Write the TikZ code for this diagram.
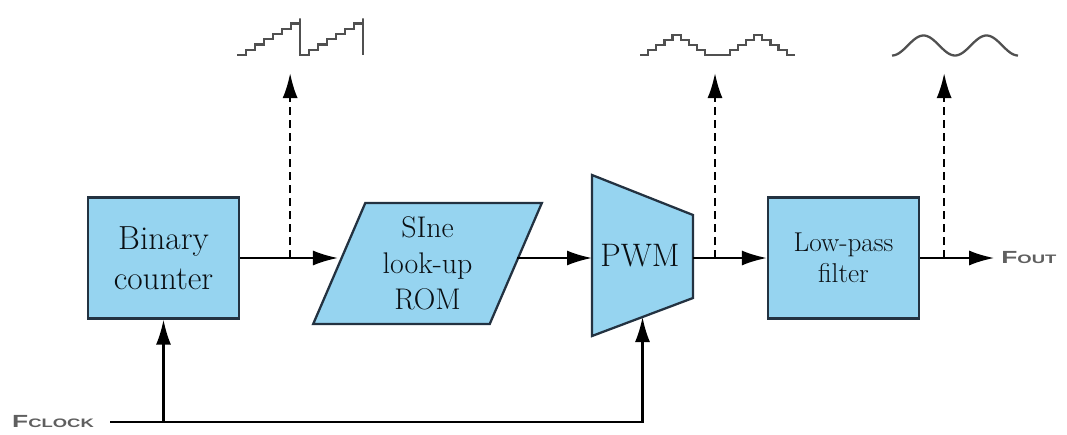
\documentclass[tikz,border=0pt]{standalone}
\usepackage{fontspec}
\newfontfamily\sigfont[FakeStretch=1.5]{Liberation Sans}
\usetikzlibrary{arrows.meta, positioning, shapes.geometric, calc}
\definecolor{boxfill}{RGB}{150,212,240}
\definecolor{boxline}{RGB}{35,50,65}
\definecolor{sigtext}{RGB}{95,95,95}
\definecolor{wavecol}{RGB}{80,80,80}

\begin{document}
\begin{tikzpicture}[
    blk/.style={draw=boxline, fill=boxfill, line width=1.3pt, minimum width=3.02cm, minimum height=2.42cm, align=center, font=\fontsize{19}{23}\selectfont, text=boxline!30!black},
    rom/.style={blk, trapezium, trapezium left angle=68, trapezium right angle=112, trapezium stretches=true, minimum width=4.58cm, font=\fontsize{17}{20.5}\selectfont},
    arrow/.style={-{Latex[length=5mm, width=3mm]}, line width=1.2pt},
    tap/.style={arrow, dash pattern=on 0.16cm off 0.1cm, line width=1.3pt},
    wave/.style={draw=wavecol, line width=1.3pt},
    sig/.style={text=sigtext, font=\sigfont\bfseries}]
  \useasboundingbox (0,0) rectangle (21.34,8.68);

  % blocks
  \node[blk] (counter) at (3.27,3.52) {Binary\\counter};
  \node[rom] (rom) at (8.55,3.41) {SIne\\look-up\\ROM};
  \draw[blk] (11.84,5.18) coordinate (pwm-tl) -- (13.86,4.38) coordinate (pwm-tr)
    -- (13.86,2.72) coordinate (pwm-br) -- (11.84,1.96) coordinate (pwm-bl) -- cycle;
  \node[font=\fontsize{18.5}{22}\selectfont, text=boxline!30!black] (pwm) at (12.8,3.56) {PWM};
  \node[blk, font=\fontsize{15.5}{17.5}\selectfont] (lpf) at (16.87,3.52) {Low-pass\\filter};

  % signal path
  \coordinate (pwm-in) at (pwm-tl |- counter.east);
  \coordinate (pwm-out) at (pwm-tr |- counter.east);
  \draw[arrow] (counter.east) -- (counter.east -| rom.west);
  \draw[arrow] (rom.east |- pwm-in) -- (pwm-in);
  \draw[arrow] (pwm-out) -- (lpf.west);
  \draw[arrow] (lpf.east) -- ++(1.48,0) coordinate (fout);
  \node[sig, right=0.02cm of fout] (fout-lbl) {F{\fontsize{7}{8}\selectfont OUT}};

  % clock
  \node[sig] (fclock) at (1.06,0.24) {F{\fontsize{7}{8}\selectfont CLOCK}};
  \coordinate (pwm-clk) at ($(pwm-bl)!0.5!(pwm-br)$);
  \draw[arrow] (fclock.east) ++(0.2,0) -| (pwm-clk);
  \draw[arrow] (counter.south |- fclock.east) -- (counter.south);

  % taps
  \coordinate (tap1) at ($(counter.east)+(1.0,0)$);
  \coordinate (tap2) at ($(pwm-out)+(0.44,0)$);
  \coordinate (tap3) at ($(lpf.east)+(0.48,0)$);
  \draw[tap] (tap1) -- ++(0,3.7);
  \draw[tap] (tap2) -- ++(0,3.7);
  \draw[tap] (tap3) -- ++(0,3.7);

  % waveforms
  \draw[wave] (4.74,7.58) \foreach \i in {1,...,7}{ -- ++(0.18,0) -- ++(0,0.105)} -- ++(0,-0.735)
    \foreach \i in {1,...,7}{ -- ++(0.18,0) -- ++(0,0.105)} -- ++(0,-0.735);
  \draw[wave] (12.8,7.58) \foreach \l [count=\k from 0] in {0,1,2,3,4,3,2,1,0,0,0,1,2,3,4,3,2,1,0}
    { -- ({12.8+\k*0.163},{7.58+\l*0.1}) -- ({12.963+\k*0.163},{7.58+\l*0.1}) };
  \draw[wave] plot[domain=0:2.52, samples=100, smooth] ({17.84+\x},{7.77-0.2*cos(\x*360/1.26)});
\end{tikzpicture}
\end{document}
